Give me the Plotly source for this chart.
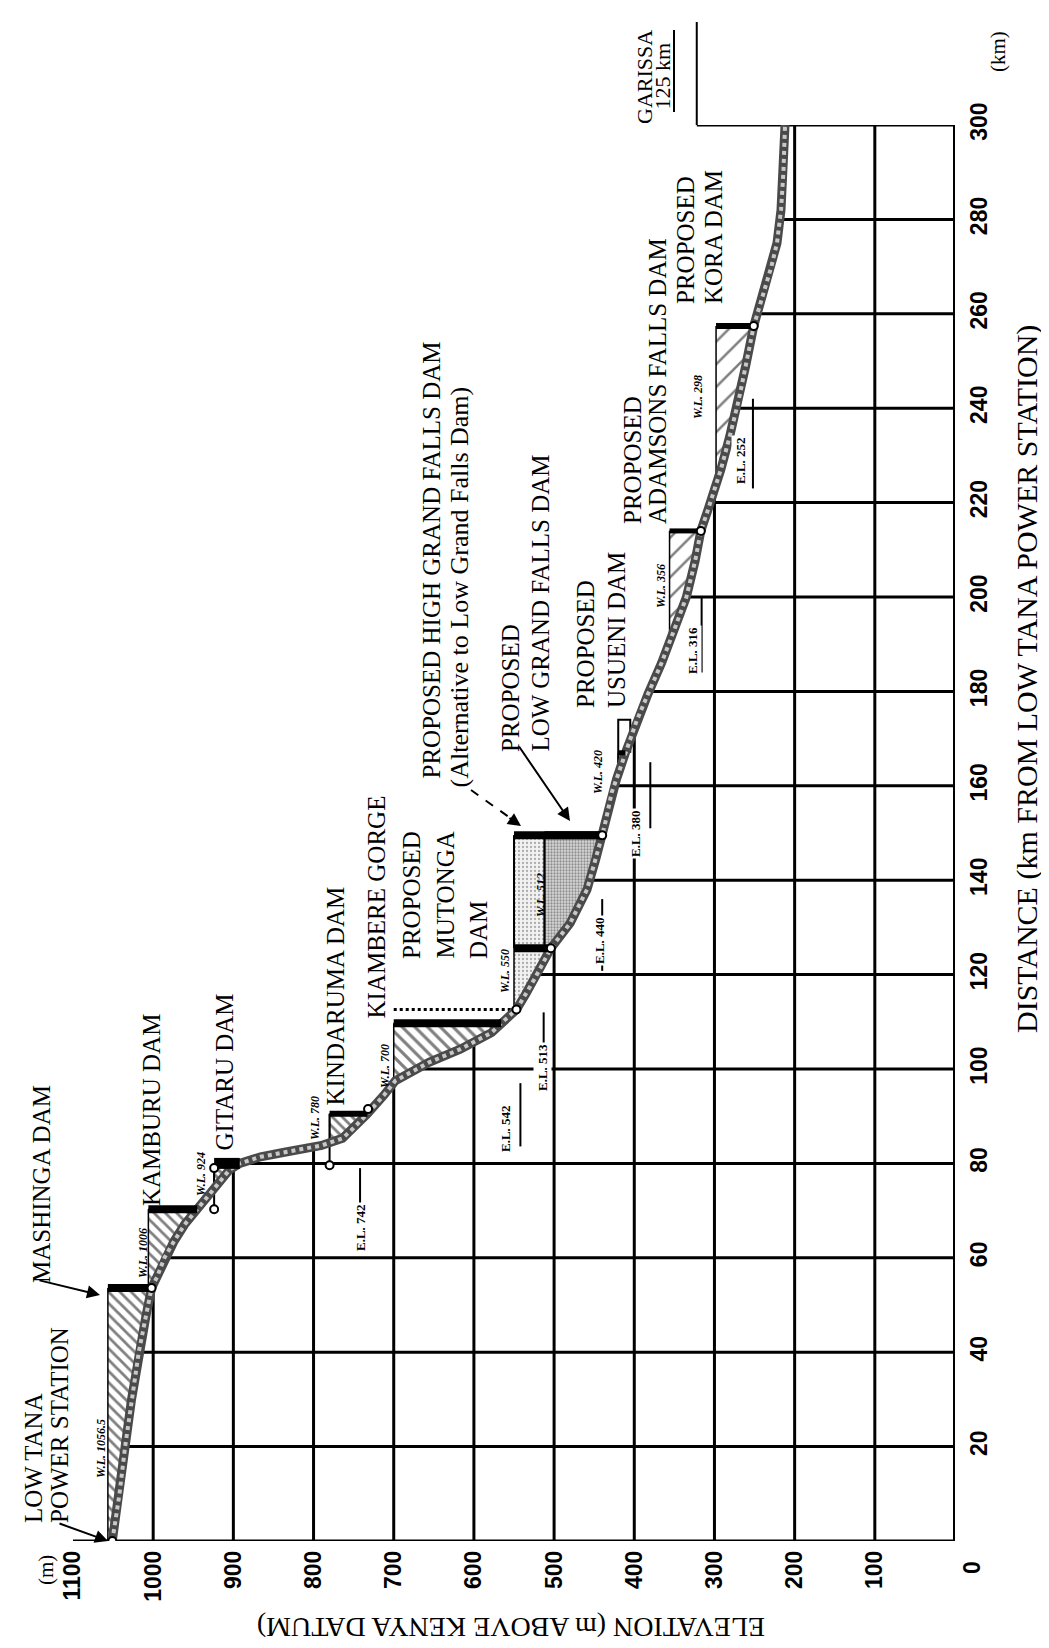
"""Tana River longitudinal profile with existing and proposed dams (rotated layout)"""
import numpy as np
import plotly.graph_objects as go

# river bed profile: distance from Low Tana power station (km) and bed elevation (m)
profile_km = [0, 10, 20, 30, 40, 47.7, 53.6, 56, 60, 63.5, 67, 70.3, 73, 75.8, 78.6, 80,
              81.4, 82.3, 83.2, 83.8, 85.3, 87.5, 90.5, 94.5, 97.5, 101.4, 104.2, 107.7,
              109.7, 112.6, 116, 119.2, 125.6, 130.9, 138, 144.5, 149.5, 153, 158.7, 161.5,
              167, 173.8, 179.4, 186, 193.6, 200, 207.7, 214, 218, 222, 227, 234, 241.5,
              249, 257.4, 262, 266, 270, 275, 282, 290, 300]
profile_m = [1051, 1042, 1035, 1027, 1018, 1009, 1002, 995, 986, 974, 961, 945, 932, 920, 905,
             892, 866, 838, 810, 790, 764, 750, 733, 712, 698, 656, 617, 578, 566, 547, 535,
             524, 504, 480, 459, 448, 440, 435, 428, 422, 411, 397, 383, 366, 349, 335, 324,
             317, 309, 301, 292, 281, 270, 261, 251, 243, 236, 229, 222, 217, 214, 212]

# dams: location (km) and water level (m)
dam_names = ["Mashinga", "Kamburu", "Gitaru", "Kindaruma", "Mutonga",
             "High Grand Falls", "Low Grand Falls", "Usueni", "Adamsons Falls", "Kora"]
dam_km = [53.6, 70.3, 80.0, 90.5, 109.7, 149.5, 149.5, 167.0, 214.0, 257.4]
dam_wl = [1056.5, 1006, 924, 780, 700, 550, 512, 420, 356, 298]
wl_labels = ["W.L. 1056.5", "W.L. 1006", "W.L. 924", "W.L. 780", "W.L. 700",
             "W.L. 550", "W.L. 512", "W.L. 420", "W.L. 356", "W.L. 298"]

# E.L. marks (elevation, km span of the underline)
el_values = [742, 542, 513, 440, 380, 316, 252]
el_from_km = [62, 83.6, 100.5, 120.8, 151, 184, 223]
el_to_km = [79, 97, 112, 136, 165, 200, 242]

# open circles on the profile (elevation, km)
circle_m = [1051, 1002, 924, 924, 780, 732, 547, 504, 440, 317, 251]
circle_km = [0, 53.6, 70.3, 79.0, 79.6, 91.5, 112.6, 125.6, 149.5, 214, 257.4]

garissa_m = 322  # Garissa marker on the 300 km line

elev_ticks = [1100, 1000, 900, 800, 700, 600, 500, 400, 300, 200, 100, 0]
dist_ticks = list(range(0, 301, 20))

SERIF = "Liberation Serif, Times New Roman, serif"
SANS = "Liberation Sans, Arial, sans-serif"

km = np.array(profile_km, dtype=float)
el = np.array(profile_m, dtype=float)


def bed_at(d):
    return float(np.interp(d, km, el))


def km_at(e):
    return float(np.interp(e, el[::-1], km[::-1]))


# page pixel -> paper fraction (plot area 65..947 x 117..1533)
def px(x):
    return (x - 65) / 882


def py(y):
    return (1533 - y) / 1416


def reservoir(d, wl):
    d0 = max(km_at(wl), 0.0)
    inside = (km > d0) & (km < d)
    xs = [wl, bed_at(d)] + list(el[inside][::-1]) + [bed_at(d0), wl, wl]
    ys = [d, d] + list(km[inside][::-1]) + [d0, d0, d]
    return xs, ys


fig = go.Figure()

# grid, clipped by the river profile
gx, gy = [], []
for e in elev_ticks[1:-1]:
    top = km_at(e) if e >= el.min() else 300
    gx += [e, e, None]
    gy += [0, top, None]
for d in dist_ticks:
    left = 1100 if d == 0 else (garissa_m if d == 300 else bed_at(d))
    gx += [left, 0, None]
    gy += [d, d, None]
fig.add_trace(go.Scatter(x=gx, y=gy, mode="lines", line=dict(color="black", width=3),
                         hoverinfo="skip", showlegend=False))
fig.add_trace(go.Scatter(x=[0, 0], y=[0, 300], mode="lines", line=dict(color="black", width=4),
                         hoverinfo="skip", showlegend=False))

# reservoirs
fills = {
    "Mashinga": dict(shape="\\", size=8, solidity=0.35, fgcolor="black", bgcolor="white"),
    "Kamburu": dict(shape="\\", size=8, solidity=0.35, fgcolor="black", bgcolor="white"),
    "Gitaru": dict(shape="\\", size=6, solidity=0.5, fgcolor="black", bgcolor="white"),
    "Kindaruma": dict(shape="\\", size=7, solidity=0.4, fgcolor="black", bgcolor="white"),
    "Mutonga": dict(shape="\\", size=9, solidity=0.35, fgcolor="black", bgcolor="white"),
    "High Grand Falls": dict(shape=".", size=4, solidity=0.25, fgcolor="#666", bgcolor="#f2f2f2"),
    "Low Grand Falls": dict(shape=".", size=3, solidity=0.45, fgcolor="#444", bgcolor="#d8d8d8"),
    "Usueni": dict(shape="\\", size=6, solidity=0.3, fgcolor="black", bgcolor="white"),
    "Adamsons Falls": dict(shape="/", size=14, solidity=0.18, fgcolor="black", bgcolor="white"),
    "Kora": dict(shape="/", size=16, solidity=0.16, fgcolor="black", bgcolor="white"),
}
for name, d, wl in zip(dam_names, dam_km, dam_wl):
    xs, ys = reservoir(d, wl)
    fig.add_trace(go.Scatter(x=xs, y=ys, mode="lines", fill="toself",
                             fillpattern=fills[name], line=dict(color="black", width=1.5),
                             hoverinfo="skip", showlegend=False))

# outline boxes / water level lines
ox = [550, 550, None, 512, 512, None, 780, 780, None, 924, 924, None,
      420, 420, 405, 405, None]
oy = [149.5, 125.6, None, 149.5, 125.6, None, 90.5, 79.6, None, 79.0, 70.3, None,
      161.5, 174, 174, 167, None]
fig.add_trace(go.Scatter(x=ox, y=oy, mode="lines", line=dict(color="black", width=2),
                         hoverinfo="skip", showlegend=False))
fig.add_trace(go.Scatter(x=[700, 547], y=[112.6, 112.6], mode="lines",
                         line=dict(color="black", width=3, dash="dot"),
                         hoverinfo="skip", showlegend=False))

# river bed profile
fig.add_trace(go.Scatter(x=profile_m, y=profile_km, mode="lines",
                         line=dict(color="#4a4a4a", width=9), hoverinfo="skip", showlegend=False))
fig.add_trace(go.Scatter(x=profile_m, y=profile_km, mode="lines",
                         line=dict(color="#c8c8c8", width=4, dash="dot"),
                         hoverinfo="skip", showlegend=False))

# dam walls
bar_w = [8, 8, 11, 6, 8, 8, 8, 5, 5, 6]
for d, wl, w in zip(dam_km, dam_wl, bar_w):
    fig.add_trace(go.Scatter(x=[wl, bed_at(d)], y=[d, d], mode="lines",
                             line=dict(color="black", width=w), hoverinfo="skip",
                             showlegend=False))
fig.add_trace(go.Scatter(x=[550, 504], y=[125.6, 125.6], mode="lines",
                         line=dict(color="black", width=8), hoverinfo="skip", showlegend=False))

# E.L. underlines
ex, ey = [], []
for v, a, b in zip(el_values, el_from_km, el_to_km):
    ex += [v, v, None]
    ey += [a, b, None]
fig.add_trace(go.Scatter(x=ex, y=ey, mode="lines", line=dict(color="black", width=2),
                         hoverinfo="skip", showlegend=False))

fig.add_trace(go.Scatter(x=circle_m, y=circle_km, mode="markers",
                         marker=dict(symbol="circle", size=8, color="white",
                                     line=dict(color="black", width=2)),
                         hoverinfo="skip", showlegend=False))

# ---- text ----
ann = []


def label(text, x, y, size=25, anchor="middle", angle=-90, font=SERIF, bg=None, weight=None):
    f = dict(family=font, size=size, color="black")
    if weight:
        f["weight"] = weight
    a = dict(text=text, xref="paper", yref="paper", x=px(x), y=py(y), showarrow=False,
             textangle=angle, xanchor="center", yanchor=anchor, font=f)
    if bg:
        a["bgcolor"] = bg
    ann.append(a)


label("LOW TANA", 25, 1517, anchor="bottom")
label("POWER STATION", 51, 1517, anchor="bottom")
label("MASHINGA DAM", 33, 1277, anchor="bottom")
label("KAMBURU DAM", 143, 1200, anchor="bottom")
label("GITARU DAM", 216, 1145, anchor="bottom")
label("KINDARUMA DAM", 327, 1100, anchor="bottom")
label("KIAMBERE GORGE", 368, 1013, anchor="bottom")
label("PROPOSED", 403, 953, anchor="bottom")
label("MUTONGA", 437, 953, anchor="bottom")
label("DAM", 470, 953, anchor="bottom")
label("PROPOSED HIGH GRAND FALLS DAM", 423, 773, anchor="bottom")
label("(Alternative to Low Grand Falls Dam)", 451, 782, size=26, anchor="bottom")
label("PROPOSED", 502, 746, anchor="bottom")
label("LOW GRAND FALLS DAM", 532, 746, anchor="bottom")
label("PROPOSED", 577, 702, anchor="bottom")
label("USUENI DAM", 608, 702, anchor="bottom")
label("PROPOSED", 624, 518, anchor="bottom")
label("ADAMSONS FALLS DAM", 649, 518, anchor="bottom")
label("PROPOSED", 677, 298, anchor="bottom")
label("KORA DAM", 705, 298, anchor="bottom")
label("GARISSA", 636, 118, size=22, anchor="bottom")
label("125 km", 654, 104, size=22, anchor="bottom")

wl_pos = [(93, 1441), (135, 1245), (193, 1166), (307, 1110), (377, 1058),
          (497, 963), (533, 887), (590, 764), (653, 578), (690, 389)]
for t, (x, y) in zip(wl_labels, wl_pos):
    label("<b><i>" + t + "</i></b>", x, y, size=12)

el_pos = [(352, 1220), (497, 1121), (534, 1060), (591, 933), (627, 826), (684, 643), (732, 453)]
for v, (x, y) in zip(el_values, el_pos):
    label("<b>E.L. %d</b>" % v, x, y, size=13, bg="white")

label("(m)", 38, 1562, size=21)
label("0", 964, 1560, size=23, font=SANS, weight="bold")
label("(km)", 990, 44, size=21)
label("DISTANCE (km FROM LOW TANA POWER STATION)", 1019, 671, size=30)
label("ELEVATION (m ABOVE KENYA DATUM)", 503, 1620, size=28, angle=180)

# arrows
for hx, hy, tx, ty in [(100, 1533, 50, 1515), (92, 1287, 30, 1272),
                       (562, 813, 510, 737), (513, 818, 500, 809)]:
    ann.append(dict(x=px(hx), y=py(hy), xref="paper", yref="paper", text="",
                    showarrow=True, ax=tx - hx, ay=ty - hy, arrowhead=2,
                    arrowsize=1.3, arrowwidth=2, arrowcolor="black"))

gx_px = 947 - garissa_m * 0.802
shapes = [
    # dashed leader of the High Grand Falls arrow
    dict(type="line", xref="paper", yref="paper", x0=px(463), y0=py(782), x1=px(505), y1=py(812),
         line=dict(color="black", width=2, dash="dash")),
    # Garissa marker and underline
    dict(type="line", xref="paper", yref="paper", x0=px(gx_px), y0=py(117), x1=px(gx_px), y1=py(14),
         line=dict(color="black", width=2)),
    dict(type="line", xref="paper", yref="paper", x0=px(666), y0=py(104), x1=px(666), y1=py(22),
         line=dict(color="black", width=2)),
]

fig.update_layout(
    width=1049, height=1648,
    margin=dict(l=65, r=102, t=117, b=115),
    paper_bgcolor="white", plot_bgcolor="white",
    showlegend=False,
    annotations=ann, shapes=shapes,
    xaxis=dict(range=[1100, 0], showgrid=False, zeroline=False, showline=False,
               tickmode="array", tickvals=elev_ticks,
               ticktext=[str(v) if v else "" for v in elev_ticks],
               tickangle=-90, ticks="", ticklabelstandoff=4,
               tickfont=dict(family=SANS, size=23, color="black", weight="bold")),
    yaxis=dict(range=[0, 300], side="right", showgrid=False, zeroline=False, showline=False,
               tickmode="array", tickvals=dist_ticks,
               ticktext=[str(v) if v else "" for v in dist_ticks],
               tickangle=-90, ticks="", ticklabelstandoff=8,
               tickfont=dict(family=SANS, size=23, color="black", weight="bold")),
)

fig.write_html("out.html")
